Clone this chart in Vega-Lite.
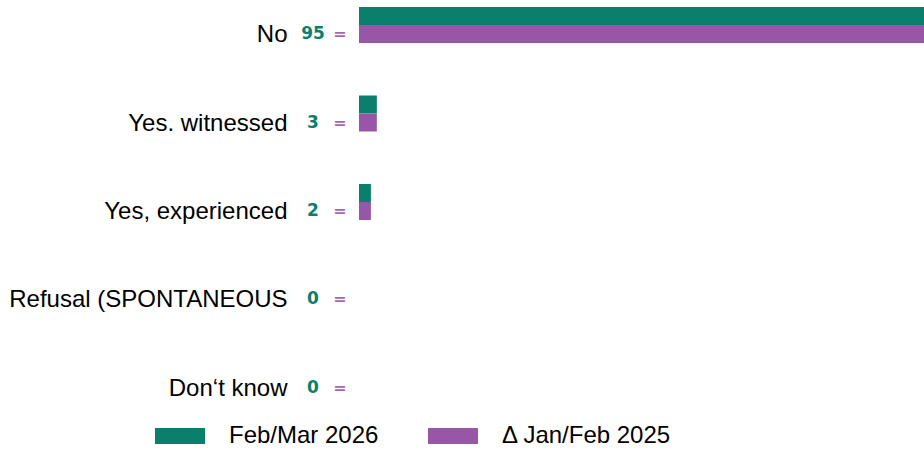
{
  "$schema": "https://vega.github.io/schema/vega-lite/v6.json",
  "autosize": {"type": "none"},
  "width": 565,
  "height": 390,
  "padding": {"left": 359, "top": 7, "right": 0, "bottom": 52},
  "background": "white",
  "config": {"view": {"stroke": null}},
  "data": {
    "values": [
      {"cat": "No", "series": "Feb/Mar 2026", "value": 95, "change": "="},
      {"cat": "No", "series": "Δ Jan/Feb 2025", "value": 95, "change": "="},
      {"cat": "Yes. witnessed", "series": "Feb/Mar 2026", "value": 3, "change": "="},
      {"cat": "Yes. witnessed", "series": "Δ Jan/Feb 2025", "value": 3, "change": "="},
      {"cat": "Yes, experienced", "series": "Feb/Mar 2026", "value": 2, "change": "="},
      {"cat": "Yes, experienced", "series": "Δ Jan/Feb 2025", "value": 2, "change": "="},
      {"cat": "Refusal (SPONTANEOUS", "series": "Feb/Mar 2026", "value": 0, "change": "="},
      {"cat": "Refusal (SPONTANEOUS", "series": "Δ Jan/Feb 2025", "value": 0, "change": "="},
      {"cat": "Don‘t know", "series": "Feb/Mar 2026", "value": 0, "change": "="},
      {"cat": "Don‘t know", "series": "Δ Jan/Feb 2025", "value": 0, "change": "="}
    ]
  },
  "encoding": {
    "y": {
      "field": "cat",
      "type": "nominal",
      "sort": ["No", "Yes. witnessed", "Yes, experienced", "Refusal (SPONTANEOUS", "Don‘t know"],
      "scale": {"paddingInner": 0.593, "paddingOuter": 0},
      "axis": {
        "title": null,
        "domain": false,
        "ticks": false,
        "labelFont": "Liberation Sans",
        "labelFontSize": 24,
        "labelColor": "#000000",
        "labelPadding": 72,
        "labelOffset": 10,
        "labelLimit": 400
      }
    }
  },
  "layer": [
    {
      "mark": {"type": "bar"},
      "encoding": {
        "x": {"field": "value", "type": "quantitative", "scale": {"domain": [0, 95], "nice": false}, "axis": null},
        "yOffset": {
          "field": "series",
          "type": "nominal",
          "sort": ["Feb/Mar 2026", "Δ Jan/Feb 2025"],
          "scale": {"paddingInner": 0, "paddingOuter": 0}
        },
        "color": {
          "field": "series",
          "type": "nominal",
          "sort": ["Feb/Mar 2026", "Δ Jan/Feb 2025"],
          "scale": {"domain": ["Feb/Mar 2026", "Δ Jan/Feb 2025"], "range": ["#0A7F6B", "#9857A6"]},
          "legend": {
            "title": null,
            "orient": "none",
            "direction": "horizontal",
            "legendX": -204,
            "legendY": 404,
            "padding": 0,
            "symbolType": "M-1,-0.32H1V0.32H-1Z",
            "symbolSize": 2500,
            "symbolStrokeWidth": 0,
            "symbolOpacity": 1,
            "labelFont": "Liberation Sans",
            "labelFontSize": 24,
            "labelColor": "#000000",
            "labelOffset": 24,
            "labelLimit": 400,
            "columnPadding": 49
          }
        }
      }
    },
    {
      "transform": [{"filter": "datum.series === 'Feb/Mar 2026'"}],
      "mark": {"type": "text", "align": "center", "baseline": "middle", "dx": -46, "dy": 9, "font": "DejaVu Sans", "fontWeight": "bold", "fontSize": 17, "color": "#0A7F6B"},
      "encoding": {
        "x": {"datum": 0, "type": "quantitative"},
        "text": {"field": "value", "type": "quantitative"}
      }
    },
    {
      "transform": [{"filter": "datum.series === 'Δ Jan/Feb 2025'"}],
      "mark": {"type": "text", "align": "center", "baseline": "middle", "dx": -19, "dy": 9, "font": "DejaVu Sans", "fontWeight": "bold", "fontSize": 16, "color": "#A268B0"},
      "encoding": {
        "x": {"datum": 0, "type": "quantitative"},
        "text": {"field": "change", "type": "nominal"}
      }
    }
  ]
}
